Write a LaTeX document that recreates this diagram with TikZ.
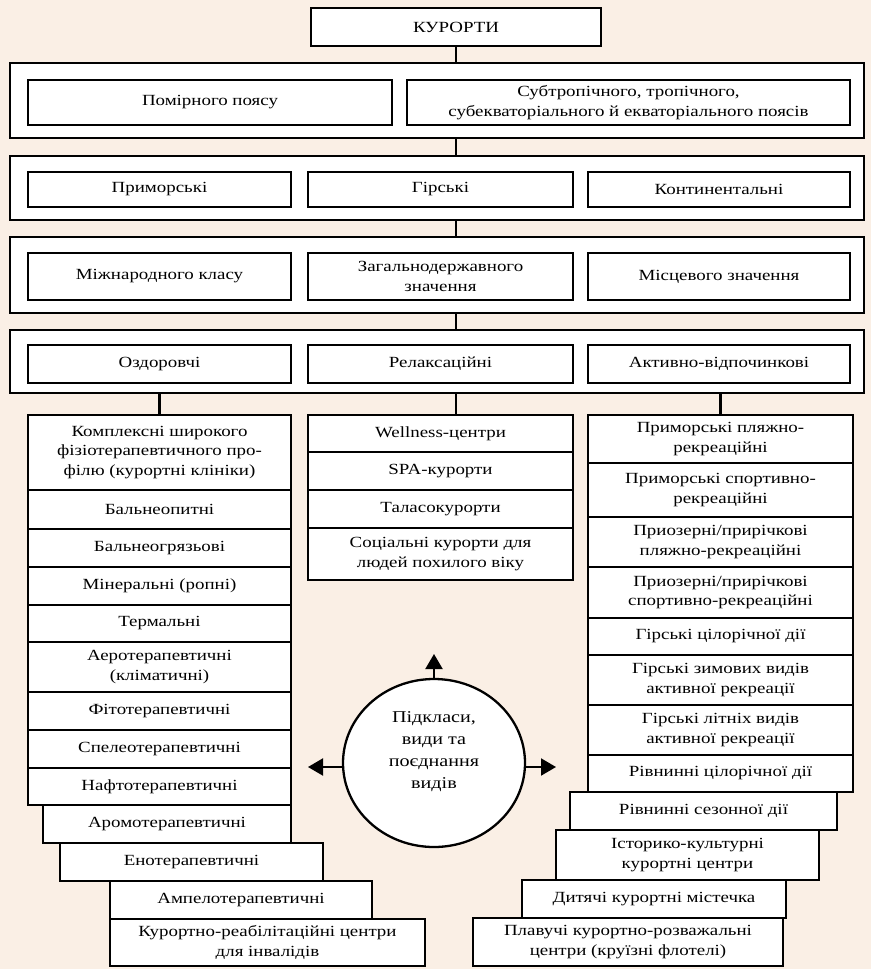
\documentclass[tikz,border=0pt]{standalone}
\usepackage{fontspec}
\setmainfont{Liberation Serif}[FakeStretch=1.22]
\usetikzlibrary{shapes.geometric,arrows.meta}
\definecolor{bgc}{RGB}{250,239,229}
\tikzset{
  bx/.style={draw, line width=2.3pt, fill=white, align=center, inner sep=0pt,
    font=\fontsize{15.5}{19.5}\selectfont},
  cont/.style={draw, line width=2.5pt, fill=white, inner sep=0pt},
  conn/.style={line width=2.3pt},
  arr/.style={line width=2pt, -{Triangle[length=15pt,width=17pt]}}
}
\newcommand\rbox[6]{\node[bx, minimum width={(#4-#2)*1pt}, minimum height={(#5-#3)*1pt}] (#1) at ({(#2+#4)/2},{(#3+#5)/2}) {#6};}
\newcommand\cbox[5]{\node[cont, minimum width={(#4-#2)*1pt}, minimum height={(#5-#3)*1pt}] (#1) at ({(#2+#4)/2},{(#3+#5)/2}) {};}
\begin{document}
\begin{tikzpicture}[x=1pt,y=-1pt]
\fill[bgc] (0,0) rectangle (871,969);
\useasboundingbox (0,0) rectangle (871,969);
\coordinate (axis) at (456,0);
% top
\rbox{kur}{311}{8}{601}{46}{КУРОРТИ}
\cbox{c1}{10}{63}{864}{138}
\rbox{a1}{28}{80}{392}{125}{Помірного поясу}
\rbox{a2}{407}{80}{850}{125}{Субтропічного, тропічного,\\субекваторіального й екваторіального поясів}
\cbox{c2}{10}{156}{864}{220}
\rbox{b1}{28}{172}{291}{207}{Приморські}
\rbox{b2}{308}{172}{573}{207}{Гірські}
\rbox{b3}{588}{172}{850}{207}{Континентальні}
\cbox{c3}{10}{237}{864}{313}
\rbox{d1}{28}{253}{291}{300}{Міжнародного класу}
\rbox{d2}{308}{253}{573}{300}{Загальнодержавного\\значення}
\rbox{d3}{588}{253}{850}{300}{Місцевого значення}
\cbox{c4}{10}{330}{864}{393}
\rbox{e1}{28}{345}{291}{383}{Оздоровчі}
\rbox{e2}{308}{345}{573}{383}{Релаксаційні}
\rbox{e3}{588}{345}{850}{383}{Активно-відпочинкові}
% connectors between levels
\draw[conn] (kur.south) -- (kur.south |- c1.north);
\draw[conn] (axis |- c1.south) -- (axis |- c2.north);
\draw[conn] (axis |- c2.south) -- (axis |- c3.north);
\draw[conn] (axis |- c3.south) -- (axis |- c4.north);
% left column
\rbox{l1}{28}{415}{291}{490}{Комплексні широкого\\фізіотерапевтичного про-\\філю (курортні клініки)}
\rbox{l2}{28}{490}{291}{529}{Бальнеопитні}
\rbox{l3}{28}{529}{291}{567}{Бальнеогрязьові}
\rbox{l4}{28}{567}{291}{605}{Мінеральні (ропні)}
\rbox{l5}{28}{605}{291}{642}{Термальні}
\rbox{l6}{28}{642}{291}{692}{Аеротерапевтичні\\(кліматичні)}
\rbox{l7}{28}{692}{291}{730}{Фітотерапевтичні}
\rbox{l8}{28}{730}{291}{768}{Спелеотерапевтичні}
\rbox{l9}{28}{768}{291}{805}{Нафтотерапевтичні}
\rbox{l10}{43}{805}{291}{843}{Аромотерапевтичні}
\rbox{l11}{60}{843}{323}{881}{Енотерапевтичні}
\rbox{l12}{110}{881}{372}{919}{Ампелотерапевтичні}
\rbox{l13}{110}{919}{425}{966}{Курортно-реабілітаційні центри\\для інвалідів}
% middle column
\rbox{m1}{308}{415}{573}{452}{Wellness-центри}
\rbox{m2}{308}{452}{573}{490}{SPA-курорти}
\rbox{m3}{308}{490}{573}{528}{Таласокурорти}
\rbox{m4}{308}{528}{573}{580}{Соціальні курорти для\\людей похилого віку}
% right column
\rbox{r1}{588}{415}{853}{463}{Приморські пляжно-\\рекреаційні}
\rbox{r2}{588}{463}{853}{517}{Приморські спортивно-\\рекреаційні}
\rbox{r3}{588}{517}{853}{567}{Приозерні/прирічкові\\пляжно-рекреаційні}
\rbox{r4}{588}{567}{853}{618}{Приозерні/прирічкові\\спортивно-рекреаційні}
\rbox{r5}{588}{618}{853}{655}{Гірські цілорічної дії}
\rbox{r6}{588}{655}{853}{705}{Гірські зимових видів\\активної рекреації}
\rbox{r7}{588}{705}{853}{755}{Гірські літніх видів\\активної рекреації}
\rbox{r8}{588}{755}{853}{792}{Рівнинні цілорічної дії}
\rbox{r9}{570}{792}{837}{830}{Рівнинні сезонної дії}
\rbox{r10}{556}{830}{819}{880}{Історико-культурні\\курортні центри}
\rbox{r11}{522}{880}{786}{918}{Дитячі курортні містечка}
\rbox{r12}{473}{918}{783}{966}{Плавучі курортно-розважальні\\центри (круїзні флотелі)}
% connectors to columns
\draw[conn] (l1.north |- c4.south) -- (l1.north);
\draw[conn] (axis |- c4.south) -- (axis |- m1.north);
\draw[conn] (r1.north |- c4.south) -- (r1.north);
% circle
\node[ellipse, draw, line width=2.3pt, fill=white, minimum width=182pt, minimum height=168pt, inner sep=0pt, align=center,
  font=\fontsize{16.5}{22}\selectfont] (circ) at (434,763) {Підкласи,\\види та\\поєднання\\видів\\[4pt]};
\coordinate (tipU) at (434,654);
\coordinate (tipL) at (308,767);
\coordinate (tipR) at (556,767);
\draw[arr] (circ.north) -- (tipU);
\draw[arr] (circ.west |- tipL) -- (tipL);
\draw[arr] (circ.east |- tipR) -- (tipR);
\end{tikzpicture}
\end{document}
